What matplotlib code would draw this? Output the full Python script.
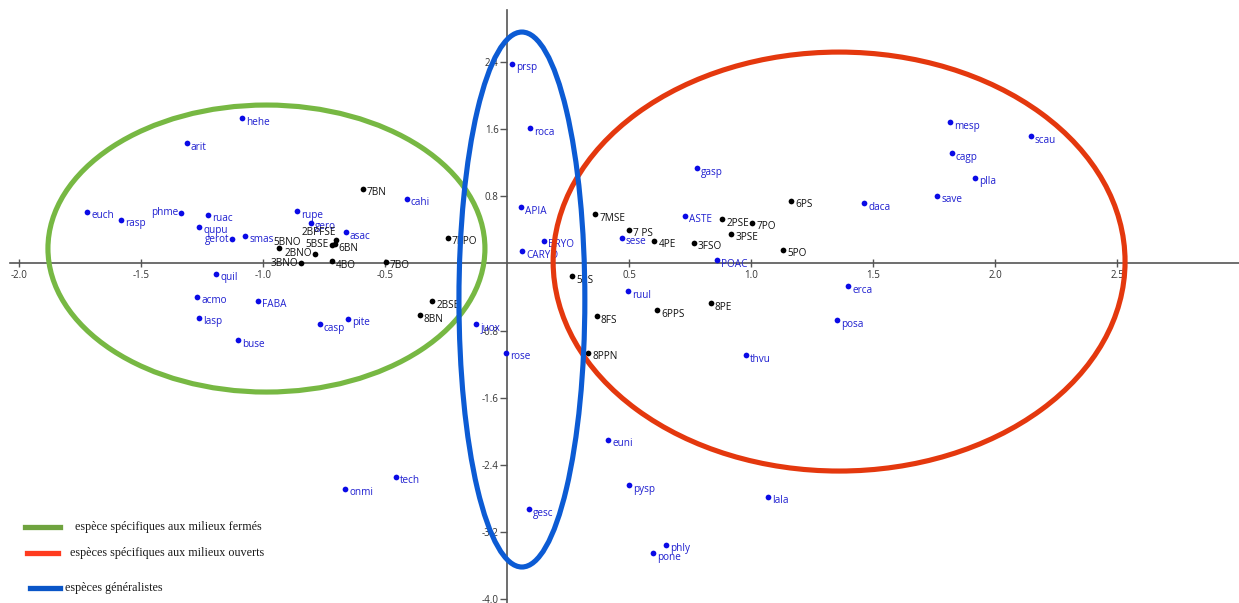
import matplotlib
matplotlib.use("Agg")
import matplotlib.pyplot as plt
from matplotlib.patches import Ellipse
from matplotlib.lines import Line2D

# ---- data: species (blue) ----
species_names = ["hehe", "arit", "euch", "rasp", "phme", "ruac", "qupu", "gerot", "smas",
                 "quil", "acmo", "FABA", "lasp", "buse", "rupe", "gero", "asac", "cahi",
                 "casp", "pite", "juox", "prsp", "roca", "APIA", "BRYO", "CARYO", "sese",
                 "ruul", "rose", "gasp", "ASTE", "POAC", "thvu", "erca", "posa", "mesp",
                 "scau", "cagp", "plla", "save", "daca", "tech", "onmi", "euni", "pysp",
                 "lala", "gesc", "phly", "pone"]
species_x = [-1.085, -1.313, -1.72, -1.582, -1.336, -1.224, -1.262, -1.126, -1.073,
             -1.191, -1.269, -1.019, -1.262, -1.102, -0.862, -0.803, -0.66, -0.411,
             -0.768, -0.653, -0.127, 0.021, 0.094, 0.056, 0.152, 0.061, 0.47,
             0.497, -0.004, 0.779, 0.728, 0.862, 0.981, 1.399, 1.354, 1.817,
             2.146, 1.823, 1.918, 1.764, 1.464, -0.456, -0.664, 0.414, 0.5,
             1.07, 0.089, 0.652, 0.597]
species_y = [1.73, 1.43, 0.616, 0.517, 0.604, 0.576, 0.437, 0.286, 0.326,
             -0.124, -0.399, -0.446, -0.649, -0.915, 0.62, 0.485, 0.37, 0.767,
             -0.728, -0.661, -0.724, 2.375, 1.611, 0.668, 0.27, 0.143, 0.306,
             -0.331, -1.062, 1.134, 0.564, 0.039, -1.094, -0.271, -0.677, 1.678,
             1.511, 1.308, 1.021, 0.803, 0.716, -2.538, -2.685, -2.1, -2.642,
             -2.78, -2.928, -3.353, -3.449]

# ---- data: sites (black) ----
site_names = ["7BN", "5BNO", "2BNO", "3BNO", "2BPFSE", "5BSE", "6BN", "4BO", "7BO",
              "7PPO", "2BSE", "8BN", "5PS", "7MSE", "7 PS", "4PE", "3FSO", "2PSE",
              "3PSE", "7PO", "6PS", "5PO", "8PE", "6PPS", "8FS", "8PPN"]
site_x = [-0.591, -0.936, -0.788, -0.843, -0.702, -0.717, -0.707, -0.717, -0.497,
          -0.243, -0.306, -0.357, 0.266, 0.362, 0.499, 0.604, 0.766, 0.882,
          0.919, 1.005, 1.164, 1.131, 0.835, 0.615, 0.368, 0.333]
site_y = [0.887, 0.179, 0.115, 0.0, 0.282, 0.222, 0.23, 0.024, 0.02,
          0.306, -0.45, -0.617, -0.152, 0.585, 0.397, 0.27, 0.242, 0.525,
          0.353, 0.481, 0.743, 0.159, -0.474, -0.561, -0.629, -1.062]

x_ticks = [-2.0, -1.5, -1.0, -0.5, 0.5, 1.0, 1.5, 2.0, 2.5]
y_ticks = [2.4, 1.6, 0.8, -0.8, -1.6, -2.4, -3.2, -4.0]

legend_labels = ["espèce spécifiques aux milieux fermés",
                 "espèces spécifiques aux milieux ouverts",
                 "espèces généralistes"]

# ---- label placement exceptions (offset pixels, ha) ----
label_style = {
    "phme": ((-3, 0), "right"),
    "gerot": ((-3, 0), "right"),
    "5BNO": ((-5, 6), "left"),
    "2BNO": ((-3, 0), "right"),
    "3BNO": ((-3, 0), "right"),
    "2BPFSE": ((0, 7), "right"),
    "5BSE": ((-3, 0), "right"),
}
default_style = ((4, -4), "left")

fig = plt.figure(figsize=(12.39, 6.03), dpi=100)
ax = fig.add_axes([0, 0, 1, 1])
ax.set_xlim(-2.078, 3.0)
ax.set_ylim(-4.044, 3.135)

for side in ["top", "right"]:
    ax.spines[side].set_visible(False)
ax.spines["left"].set_position(("data", 0))
ax.spines["bottom"].set_position(("data", 0))
ax.spines["left"].set_bounds(-4.044, 3.016)
ax.spines["bottom"].set_bounds(-2.037, 3.0)
for side in ["left", "bottom"]:
    ax.spines[side].set_color("#555555")
    ax.spines[side].set_linewidth(1.2)

ax.set_xticks(x_ticks)
ax.set_xticklabels([f"{v:.1f}" for v in x_ticks])
ax.set_yticks(y_ticks)
ax.set_yticklabels([f"{v:.1f}" for v in y_ticks])
ax.tick_params(axis="x", direction="inout", length=6, width=1, color="#555555",
               labelsize=7, labelcolor="#333333", pad=2)
ax.tick_params(axis="y", direction="out", length=5, width=1, color="#555555",
               labelsize=7, labelcolor="#333333", pad=1)
for lab in ax.get_xticklabels() + ax.get_yticklabels():
    lab.set_family("Open Sans")

ax.scatter(species_x, species_y, s=17, color="#0a0ae6", zorder=3, linewidths=0)
ax.scatter(site_x, site_y, s=17, color="#000000", zorder=3, linewidths=0)


def put_labels(names, xs, ys, color):
    for n, x, y in zip(names, xs, ys):
        off, ha = label_style.get(n, default_style)
        ax.annotate(n, (x, y), xytext=off, textcoords="offset pixels",
                    ha=ha, va="center", fontsize=7.2, color=color,
                    family="Open Sans", zorder=4)


put_labels(species_names, species_x, species_y, "#2020d0")
put_labels(site_names, site_x, site_y, "#111111")

# ellipses
green = "#77b843"
red = "#e4380e"
blue = "#0c5bd4"
ax.add_patch(Ellipse((-0.986, 0.176), 1.791, 3.417, fill=False, ec=green, lw=3.7, zorder=5))
ax.add_patch(Ellipse((1.361, 0.021), 2.344, 4.988, fill=False, ec=red, lw=3.7, zorder=5))
ax.add_patch(Ellipse((0.061, -0.431), 0.516, 6.369, fill=False, ec=blue, lw=3.7, zorder=5))

# manual legend (figure coordinates)
W, H = 1239.0, 603.0
leg = [((25, 60), 527, "#6fa33f", 75, legend_labels[0]),
       ((27, 58), 553, "#ff3b1f", 70, legend_labels[1]),
       ((30, 60), 588, "#0a56c8", 65, legend_labels[2])]
for (x0, x1), yp, c, tx, txt in leg:
    fig.add_artist(Line2D([x0 / W, x1 / W], [1 - yp / H, 1 - yp / H], color=c, lw=3.8,
                          transform=fig.transFigure))
    fig.text(tx / W, 1 - yp / H, txt, ha="left", va="center", fontsize=8.7,
             family="Liberation Serif", color="#1a1a1a")

fig.savefig("out.png", dpi=100)
